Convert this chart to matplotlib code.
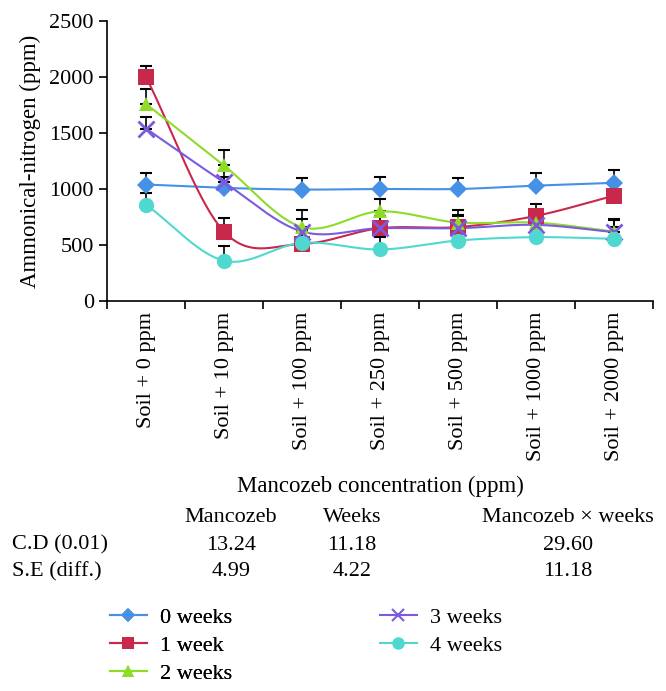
import matplotlib
matplotlib.use("Agg")
import matplotlib.pyplot as plt
from matplotlib.lines import Line2D
import numpy as np

categories = ["Soil + 0 ppm", "Soil + 10 ppm", "Soil + 100 ppm", "Soil + 250 ppm",
              "Soil + 500 ppm", "Soil + 1000 ppm", "Soil + 2000 ppm"]
series_names = ["0 weeks", "1 week", "2 weeks", "3 weeks", "4 weeks"]

week0 = [1040, 1010, 995, 1000, 1000, 1030, 1055]
week1 = [2000, 620, 510, 650, 660, 760, 940]
week2 = [1760, 1210, 660, 800, 700, 700, 620]
week3 = [1540, 1060, 620, 650, 650, 680, 615]
week4 = [860, 360, 520, 460, 540, 570, 555]

err0 = [100, 100, 105, 110, 100, 110, 115]
err1 = [100, 120, 110, 110, 110, 110, 110]
err2 = [130, 140, 150, 110, 110, 110, 110]
err3 = [100, 100, 110, 110, 110, 110, 110]
err4 = [100, 130, 110, 110, 110, 110, 110]

table_cols = ["Mancozeb", "Weeks", "Mancozeb \u00d7 weeks"]
cd_values = ["13.24", "11.18", "29.60"]
se_values = ["4.99", "4.22", "11.18"]

colors = ["#4690e6", "#c8284c", "#8edb28", "#7a5be0", "#4fd8d0"]
markers = ["D", "s", "^", "x", "o"]
msizes = [9, 11, 10, 11, 11]


def catmull_rom(x, y, n=30):
    # smoothed line like a spreadsheet's "smooth line" option
    x = np.asarray(x, float)
    y = np.asarray(y, float)
    px = np.concatenate([[2 * x[0] - x[1]], x, [2 * x[-1] - x[-2]]])
    py = np.concatenate([[2 * y[0] - y[1]], y, [2 * y[-1] - y[-2]]])
    xs, ys = [], []
    t = np.linspace(0, 1, n)
    for i in range(1, len(px) - 2):
        for p, out in ((px, xs), (py, ys)):
            p0, p1, p2, p3 = p[i - 1], p[i], p[i + 1], p[i + 2]
            out.extend(0.5 * (2 * p1 + (-p0 + p2) * t
                              + (2 * p0 - 5 * p1 + 4 * p2 - p3) * t ** 2
                              + (-p0 + 3 * p1 - 3 * p2 + p3) * t ** 3))
    return np.array(xs), np.array(ys)


plt.rcParams["font.family"] = ["Liberation Serif", "DejaVu Serif"]

W, H = 666, 691
fig = plt.figure(figsize=(W / 100, H / 100), dpi=100)
ax = fig.add_axes([107 / W, 1 - 301 / H, 546 / W, 280 / H])

x = np.arange(len(categories))
values = [week0, week1, week2, week3, week4]
errors = [err0, err1, err2, err3, err4]

for vals, errs in zip(values, errors):
    ax.errorbar(x, vals, yerr=[np.zeros(len(errs)), errs], fmt="none",
                ecolor="black", elinewidth=1.2, capsize=4, capthick=1.5, zorder=2)

for vals, c, m, ms in zip(values, colors, markers, msizes):
    sx, sy = catmull_rom(x, vals)
    ax.plot(sx, sy, color=c, lw=1.5, zorder=3)
    mew = 2 if m == "x" else 0
    ax.plot(x, vals, linestyle="none", marker=m, markersize=ms, color=c,
            markeredgewidth=mew, zorder=4)

ax.set_xlim(-0.5, len(categories) - 0.5)
ax.set_ylim(0, 2500)
ax.set_yticks(np.arange(0, 2501, 500))
ax.set_xticks(x)
ax.set_xticklabels(categories, rotation=90, fontsize=16)
ax.tick_params(axis="x", length=0, pad=8)
ax.set_xticks(np.arange(-0.5, len(categories)), minor=True)
ax.tick_params(axis="x", which="minor", length=6, width=1.2, direction="out")
ax.tick_params(axis="y", labelsize=16, length=6, width=1.2, direction="out")
ax.set_ylabel("Ammonical-nitrogen (ppm)", fontsize=16.5, labelpad=6)
for side in ("top", "right"):
    ax.spines[side].set_visible(False)
for side in ("left", "bottom"):
    ax.spines[side].set_linewidth(1.2)

fig.text(380 / W, 1 - 486 / H, "Mancozeb concentration (ppm)", ha="center",
         va="center", fontsize=16.5)

col_x = [231, 352, 568]
for cx, head, cd, se in zip(col_x, table_cols, cd_values, se_values):
    fig.text(cx / W, 1 - 518 / H, head, ha="center", va="center", fontsize=16)
    fig.text(cx / W, 1 - 545 / H, cd, ha="center", va="center", fontsize=16)
    fig.text(cx / W, 1 - 572 / H, se, ha="center", va="center", fontsize=16)
fig.text(12 / W, 1 - 545 / H, "C.D (0.01)", ha="left", va="center", fontsize=16)
fig.text(12 / W, 1 - 572 / H, "S.E (diff.)", ha="left", va="center", fontsize=16)

handles = [Line2D([], [], color=c, marker=m, markersize=ms - 2,
                  markeredgewidth=(1.5 if m == "x" else 0), lw=1.5)
           for c, m, ms in zip(colors, markers, msizes)]
leg_kw = dict(loc="upper left", frameon=False, fontsize=16, handlelength=1.65,
              handletextpad=0.6, labelspacing=0.34, borderpad=0, borderaxespad=0)
leg1 = fig.legend(handles[:3], series_names[:3],
                  bbox_to_anchor=(110 / W, 1 - 607 / H), **leg_kw)
fig.add_artist(leg1)
fig.legend(handles[3:], series_names[3:],
           bbox_to_anchor=(380 / W, 1 - 607 / H), **leg_kw)

fig.savefig("out.png", dpi=100)
